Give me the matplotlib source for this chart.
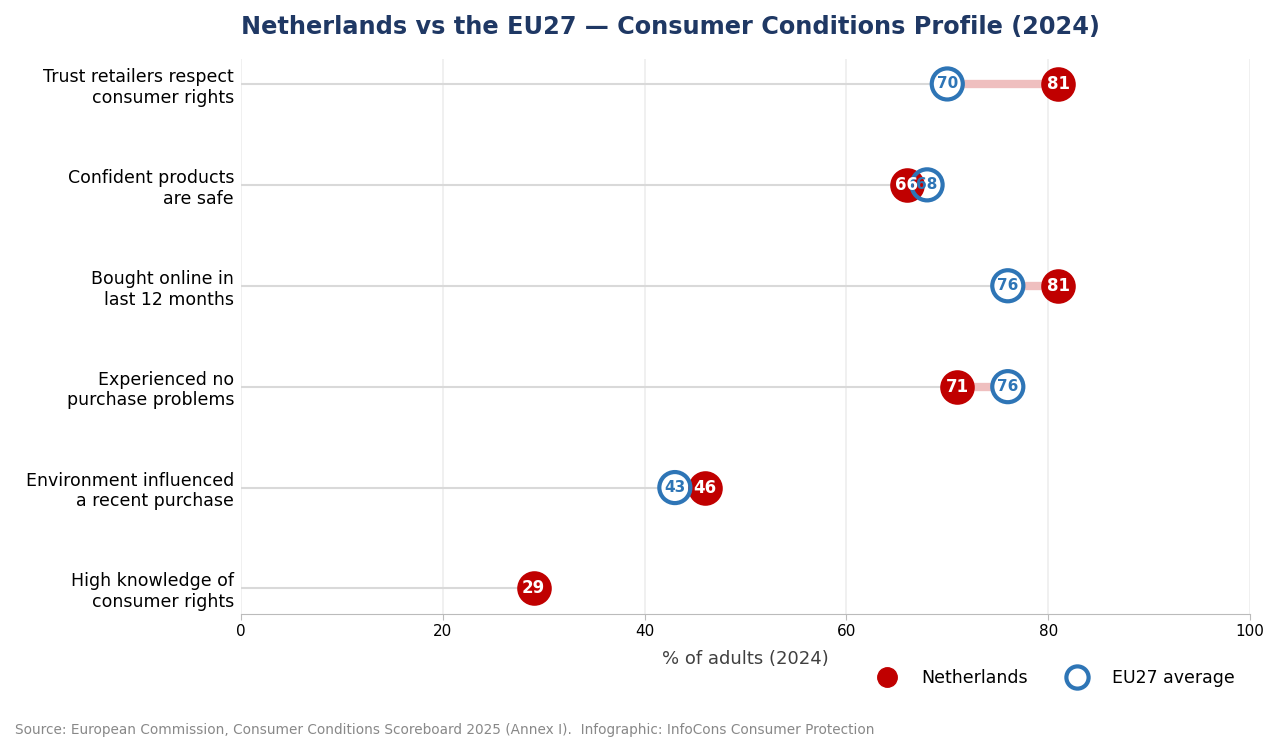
import numpy as np
import matplotlib.pyplot as plt
from matplotlib.lines import Line2D

# Data
categories = [
    "Trust retailers respect\nconsumer rights",
    "Confident products\nare safe",
    "Bought online in\nlast 12 months",
    "Experienced no\npurchase problems",
    "Environment influenced\na recent purchase",
    "High knowledge of\nconsumer rights",
]
netherlands = [81, 66, 81, 71, 46, 29]
eu27 = [70, 68, 76, 76, 43, np.nan]

red = '#c00000'
blue = '#2e75b6'

fig, ax = plt.subplots(figsize=(12.82, 7.53), dpi=100)
fig.subplots_adjust(left=0.188, right=0.975, top=0.922, bottom=0.185)

y = np.arange(len(categories))[::-1]

for yi, nl, eu in zip(y, netherlands, eu27):
    lo = nl if np.isnan(eu) else min(nl, eu)
    ax.plot([0, lo], [yi, yi], color='#d9d9d9', lw=1.5, zorder=1)
    if not np.isnan(eu):
        ax.plot([nl, eu], [yi, yi], color=red, alpha=0.25, lw=6, zorder=2,
                solid_capstyle='butt')

# white fill under the EU ring, then the NL dot, then the ring on top
ax.scatter(eu27, y, s=500, color='white', linewidth=0, zorder=3)
ax.scatter(netherlands, y, s=620, color=red, linewidth=0, zorder=4)
ax.scatter(eu27, y, s=500, facecolor='none', edgecolor=blue, linewidth=3, zorder=5)

for yi, nl, eu in zip(y, netherlands, eu27):
    ax.text(nl, yi, f"{nl:.0f}", color='white', fontsize=12, fontweight='bold',
            ha='center', va='center', zorder=6)
    if not np.isnan(eu):
        ax.text(eu, yi, f"{eu:.0f}", color=blue, fontsize=11, fontweight='bold',
                ha='center', va='center', zorder=7)

ax.set_xlim(0, 100)
ax.set_ylim(-0.25, 5.25)
ax.set_yticks(y)
ax.set_yticklabels(categories, fontsize=12.5)
ax.set_xticks([0, 20, 40, 60, 80, 100])
ax.tick_params(axis='x', labelsize=11, length=4, color='#bbbbbb')
ax.tick_params(axis='y', length=0, pad=5)
ax.grid(axis='x', color='#eeeeee', lw=1.2, zorder=0)
ax.set_axisbelow(True)
for s in ['top', 'right', 'left']:
    ax.spines[s].set_visible(False)
ax.spines['bottom'].set_color('#bbbbbb')
ax.set_xlabel("% of adults (2024)", fontsize=13, color='#404040', labelpad=8)

fig.text(0.523, 0.964, "Netherlands vs the EU27 \u2014 Consumer Conditions Profile (2024)",
         fontsize=17.3, fontweight='bold', color='#1f3864', ha='center', va='center')

handles = [
    Line2D([], [], marker='o', ls='none', markersize=14, color=red),
    Line2D([], [], marker='o', ls='none', markersize=16, markerfacecolor='none',
           markeredgecolor=blue, markeredgewidth=3),
]
fig.legend(handles, ["Netherlands", "EU27 average"], loc='center right',
           bbox_to_anchor=(0.975, 0.1), ncol=2, frameon=False, fontsize=12.5,
           columnspacing=1.8, handletextpad=1.0)

fig.text(0.012, 0.025, "Source: European Commission, Consumer Conditions Scoreboard 2025 (Annex I).  "
         "Infographic: InfoCons Consumer Protection", fontsize=9.8, color='#888888')

fig.savefig('out.png', dpi=100)
